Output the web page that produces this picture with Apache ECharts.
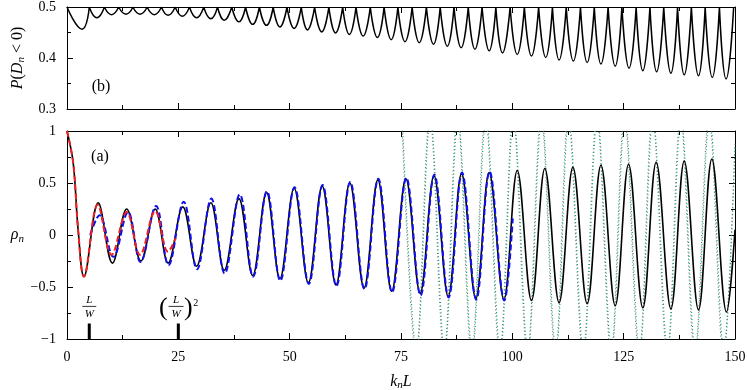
<!DOCTYPE html>
<html><head><meta charset="utf-8">
<script src="https://cdn.jsdelivr.net/npm/echarts@6.0.0/dist/echarts.min.js"></script>
<style>html,body{margin:0;padding:0;background:#fff}#c{width:747px;height:390px}</style>
</head><body><div id="c"></div>
<script>
// ---------- data ----------
// (a) rho_n : solid black curve (extrema and a few points on the first descent)
const rhoX = [0, 1.4, 2.5, 3.8, 7.0, 10.2, 13.4, 16.6, 19.8, 22.7, 26.0, 29.1, 32.3, 35.3, 38.6, 41.7, 44.8, 47.8, 51.0, 54.2, 57.3, 60.4, 63.5, 66.7, 69.8, 72.9, 76.1, 79.3, 82.4, 85.6, 88.6, 91.8, 94.8, 98.1, 101.1, 104.3, 107.3, 110.5, 113.6, 116.8, 119.9, 123.1, 126.1, 129.3, 132.3, 135.6, 138.6, 141.8, 144.8, 148.1, 150];
const rhoY = [1, 0.69, 0.05, -0.40, 0.31, -0.27, 0.25, -0.25, 0.25, -0.27, 0.27, -0.30, 0.31, -0.34, 0.35, -0.39, 0.41, -0.42, 0.45, -0.46, 0.47, -0.48, 0.50, -0.51, 0.53, -0.54, 0.54, -0.56, 0.57, -0.59, 0.59, -0.61, 0.60, -0.62, 0.62, -0.63, 0.64, -0.65, 0.65, -0.66, 0.67, -0.68, 0.68, -0.70, 0.70, -0.71, 0.71, -0.72, 0.73, -0.74, 0.05];
// red dashed approximation
const redX = [0, 1.4, 2.5, 3.8, 6.9, 10.0, 13.4, 16.4, 19.8, 22.7, 24.4];
const redY = [1, 0.69, 0.05, -0.40, 0.29, -0.19, 0.22, -0.19, 0.23, -0.16, -0.03];
// blue dashed approximation
const blueX = [5.2, 7.3, 10.4, 13.7, 16.5, 20.0, 22.8, 26.2, 29.2, 32.4, 35.4, 38.8, 41.8, 44.9, 47.9, 51.1, 54.3, 57.4, 60.5, 63.6, 66.8, 69.9, 73.0, 76.2, 79.4, 82.5, 85.7, 88.7, 91.9, 94.9, 98.2, 100.1];
const blueY = [0.0, 0.19, -0.21, 0.22, -0.26, 0.28, -0.29, 0.32, -0.33, 0.35, -0.37, 0.39, -0.40, 0.42, -0.44, 0.46, -0.47, 0.48, -0.49, 0.51, -0.52, 0.54, -0.55, 0.55, -0.58, 0.58, -0.60, 0.60, -0.62, 0.61, -0.63, 0.16];
// green dotted approximation (runs past the frame, clipped)
const greenX = [75.3, 78.5, 81.6, 84.8, 87.8, 91.0, 94.1, 97.3, 100.3, 103.5, 106.6, 109.8, 112.7, 116.0, 119.1, 122.3, 125.3, 128.6, 131.6, 134.9, 137.9, 141.1, 144.3, 147.5, 150];
const greenY = [1.12, -1.12, 1.12, -1.12, 1.12, -1.12, 1.12, -1.12, 1.12, -1.12, 1.12, -1.12, 1.12, -1.12, 1.12, -1.12, 1.12, -1.12, 1.12, -1.12, 1.12, -1.12, 1.12, -1.12, 0.85];
// grey dotted approximation
const grayX = [75.15, 78.35, 81.45, 84.65, 87.65, 90.85, 93.95, 97.15, 100.15, 103.35, 106.45, 109.65, 112.55, 115.85, 118.95, 122.15, 125.15, 128.45, 131.45, 134.75, 137.75, 140.95, 144.15, 147.35, 150];
const grayY = [1.14, -1.14, 1.14, -1.14, 1.14, -1.14, 1.14, -1.14, 1.14, -1.14, 1.14, -1.14, 1.14, -1.14, 1.14, -1.14, 1.14, -1.14, 1.14, -1.14, 1.14, -1.14, 1.14, -1.14, 0.88];
// (b) P(D_n<0): local minima and the points where it touches 0.5
const pMinX = [3.4, 6.7, 10.0, 13.25, 16.4, 19.6, 22.7, 25.9, 29.1, 32.3, 35.3, 38.6, 41.7, 44.8, 47.8, 51.0, 54.0, 57.2, 60.3, 63.4, 66.5, 69.7, 72.8, 75.9, 79.1, 82.3, 85.4, 88.5, 91.6, 94.8, 97.8, 101.1, 104.3, 107.5, 110.5, 113.7, 116.8, 119.9, 123.1, 126.2, 129.3, 132.4, 135.6, 138.6, 141.8, 144.9, 148.0];
const pMinY = [0.4565, 0.479, 0.485, 0.486, 0.486, 0.485, 0.484, 0.482, 0.479, 0.477, 0.474, 0.471, 0.466, 0.464, 0.461, 0.458, 0.455, 0.451, 0.449, 0.446, 0.443, 0.440, 0.436, 0.432, 0.430, 0.427, 0.423, 0.420, 0.417, 0.414, 0.410, 0.407, 0.404, 0.401, 0.396, 0.394, 0.391, 0.388, 0.384, 0.380, 0.375, 0.373, 0.370, 0.367, 0.365, 0.362, 0.359];
const pTopX = [0, 5.0, 8.4, 11.6, 14.8, 18.0, 21.2, 24.3, 27.5, 30.7, 33.8, 37.0, 40.1, 43.2, 46.3, 49.4, 52.6, 55.6, 58.8, 61.9, 64.9, 68.1, 71.2, 74.3, 77.5, 80.7, 83.8, 86.9, 90.1, 93.2, 96.3, 99.5, 102.7, 105.9, 109.0, 112.1, 115.3, 118.4, 121.5, 124.6, 127.8, 130.9, 134.0, 137.1, 140.2, 143.3, 146.5, 149.7];
const pTopY = 0.5;
// annotation marks on the k_n L axis
const annotX = [5, 25];
const annotTop = -0.85;
// tick labels
const xTickLabels = ['0', '25', '50', '75', '100', '125', '150'];
const yTickLabelsA = ['\u22121', '\u22120.5', '0', '0.5', '1'];
const yTickLabelsB = ['0.3', '0.4', '0.5'];

// ---------- build ----------
const zip = (xs, ys) => xs.map((x, i) => [x, ys[i]]);
const pData = [];
for (let i = 0; i < pMinX.length; i++) {
  pData.push([pTopX[i], pTopY], [pMinX[i], pMinY[i]], [pTopX[i + 1], pTopY], [pTopX[i + 1], '-']);
}

const serif = '"Liberation Serif", "DejaVu Serif", serif';
const black = '#000';

function xAx(grid, pos, withLabels, extra) {
  return Object.assign({
    type: 'value', gridIndex: grid, position: pos, min: 0, max: 150, interval: 25,
    axisLine: { show: true, onZero: false, lineStyle: { color: black, width: 1 } },
    axisTick: { show: true, inside: true, length: 6, lineStyle: { color: black, width: 1 } },
    minorTick: { show: true, splitNumber: 2, length: 4, lineStyle: { color: black, width: 1 } },
    splitLine: { show: false }, minorSplitLine: { show: false },
    axisLabel: withLabels ? {
      show: true, margin: 11, color: black, fontFamily: serif, fontSize: 14,
      formatter: v => xTickLabels[Math.round(v / 25)]
    } : { show: false }
  }, extra || {});
}
function yAx(grid, pos, min, max, interval, labels, extra) {
  return Object.assign({
    type: 'value', gridIndex: grid, position: pos, min: min, max: max, interval: interval,
    axisLine: { show: true, onZero: false, lineStyle: { color: black, width: 1 } },
    axisTick: { show: true, inside: true, length: 6, lineStyle: { color: black, width: 1 } },
    minorTick: { show: true, splitNumber: 2, length: 4, lineStyle: { color: black, width: 1 } },
    splitLine: { show: false }, minorSplitLine: { show: false },
    axisLabel: labels ? {
      show: true, margin: 11, color: black, fontFamily: serif, fontSize: 14,
      formatter: v => labels[Math.round((v - min) / interval)]
    } : { show: false }
  }, extra || {});
}

const richName = {
  i: { fontFamily: serif, fontStyle: 'italic', fontSize: 16, color: black },
  r: { fontFamily: serif, fontSize: 16, color: black },
  s: { fontFamily: serif, fontStyle: 'italic', fontSize: 11, color: black, padding: [8, 0, 0, 0] }
};

const chart = echarts.init(document.getElementById('c'), null, { renderer: 'canvas' });
const option = {
  animation: false,
  backgroundColor: '#fff',
  grid: [
    { left: 67, right: 12, top: 7, height: 102, outerBoundsMode: 'none', containLabel: false },
    { left: 67, right: 12, top: 131, height: 208, outerBoundsMode: 'none', containLabel: false }
  ],
  xAxis: [
    xAx(0, 'bottom', false),
    xAx(0, 'top', false),
    xAx(1, 'bottom', true, {
      name: '{i|k}{s|n}{i|L}', nameLocation: 'middle', nameGap: 33,
      nameTextStyle: { rich: richName }
    }),
    xAx(1, 'top', false)
  ],
  yAxis: [
    yAx(0, 'left', 0.3, 0.5, 0.1, yTickLabelsB, {
      name: '{i|P}{r|(}{i|D}{s|n}{r| < 0)}', nameLocation: 'middle', nameRotate: 90, nameGap: 40,
      nameTextStyle: { rich: richName }
    }),
    yAx(0, 'right', 0.3, 0.5, 0.1, null),
    yAx(1, 'left', -1, 1, 0.5, yTickLabelsA, {
      name: '{i|\u03c1}{s|n}', nameLocation: 'middle', nameRotate: 0, nameGap: 43,
      nameTextStyle: { rich: richName }
    }),
    yAx(1, 'right', -1, 1, 0.5, null)
  ],
  series: [
    { type: 'line', name: 'P', xAxisIndex: 0, yAxisIndex: 0, data: pData, smooth: 0.5,
      symbol: 'none', connectNulls: false, silent: true, clip: true,
      lineStyle: { color: black, width: 1.5 } },
    { type: 'line', name: 'grey', xAxisIndex: 2, yAxisIndex: 2, data: zip(grayX, grayY), smooth: 0.36,
      symbol: 'none', silent: true, clip: true,
      lineStyle: { color: '#777', width: 1.1, type: [1, 2.5] } },
    { type: 'line', name: 'green', xAxisIndex: 2, yAxisIndex: 2, data: zip(greenX, greenY), smooth: 0.36,
      symbol: 'none', silent: true, clip: true,
      lineStyle: { color: '#00a070', width: 1.2, type: [1, 2.5] } },
    { type: 'line', name: 'rho', xAxisIndex: 2, yAxisIndex: 2, data: zip(rhoX, rhoY), smooth: 0.38,
      symbol: 'none', silent: true, clip: true,
      lineStyle: { color: black, width: 1.6 } },
    { type: 'line', name: 'blue', xAxisIndex: 2, yAxisIndex: 2, data: zip(blueX, blueY), smooth: 0.38,
      symbol: 'none', silent: true, clip: true,
      lineStyle: { color: '#1010ee', width: 2, type: [6, 3] } },
    { type: 'line', name: 'red', xAxisIndex: 2, yAxisIndex: 2, data: zip(redX, redY), smooth: 0.38,
      symbol: 'none', silent: true, clip: true,
      lineStyle: { color: '#ee2020', width: 2, type: [6, 3] } }
  ].concat(annotX.map(ax => ({
    type: 'line', xAxisIndex: 2, yAxisIndex: 2, data: [[ax, -1], [ax, annotTop]],
    symbol: 'none', silent: true, lineStyle: { color: black, width: 3 }
  })))
};
chart.setOption(option);

// ---------- text annotations positioned through the axes ----------
const it = { fontFamily: serif, fontStyle: 'italic', fontSize: 11, fill: black, align: 'center', verticalAlign: 'middle' };
const up = { fontFamily: serif, fill: black, align: 'center', verticalAlign: 'middle' };
const g = [];
function frac(cx, barY, half) {
  g.push({ type: 'text', x: cx, y: barY - 6.5, style: Object.assign({ text: 'L' }, it) });
  g.push({ type: 'text', x: cx, y: barY + 7.5, style: Object.assign({ text: 'W' }, it) });
  g.push({ type: 'line', shape: { x1: cx - half, y1: barY, x2: cx + half, y2: barY }, style: { stroke: black, lineWidth: 0.8 } });
}
const p1 = chart.convertToPixel({ xAxisIndex: 2, yAxisIndex: 2 }, [annotX[0], annotTop]);
const p2 = chart.convertToPixel({ xAxisIndex: 2, yAxisIndex: 2 }, [annotX[1], annotTop]);
const barY = p1[1] - 17;
frac(p1[0], barY, 7);
const cx2 = p2[0] - 2.3;
frac(cx2, barY, 7.5);
g.push({ type: 'text', x: cx2 - 12.7, y: barY + 1.5, style: Object.assign({ text: '(', fontSize: 26 }, up) });
g.push({ type: 'text', x: cx2 + 12.2, y: barY + 1.5, style: Object.assign({ text: ')', fontSize: 26 }, up) });
g.push({ type: 'text', x: cx2 + 19.8, y: barY - 3, style: Object.assign({ text: '2', fontSize: 10 }, up) });
g.push({ type: 'text', x: 100, y: 157, style: Object.assign({ text: '(a)', fontSize: 16 }, up) });
g.push({ type: 'text', x: 101, y: 87, style: Object.assign({ text: '(b)', fontSize: 16 }, up) });
chart.setOption({ graphic: g });
</script>
</body></html>
